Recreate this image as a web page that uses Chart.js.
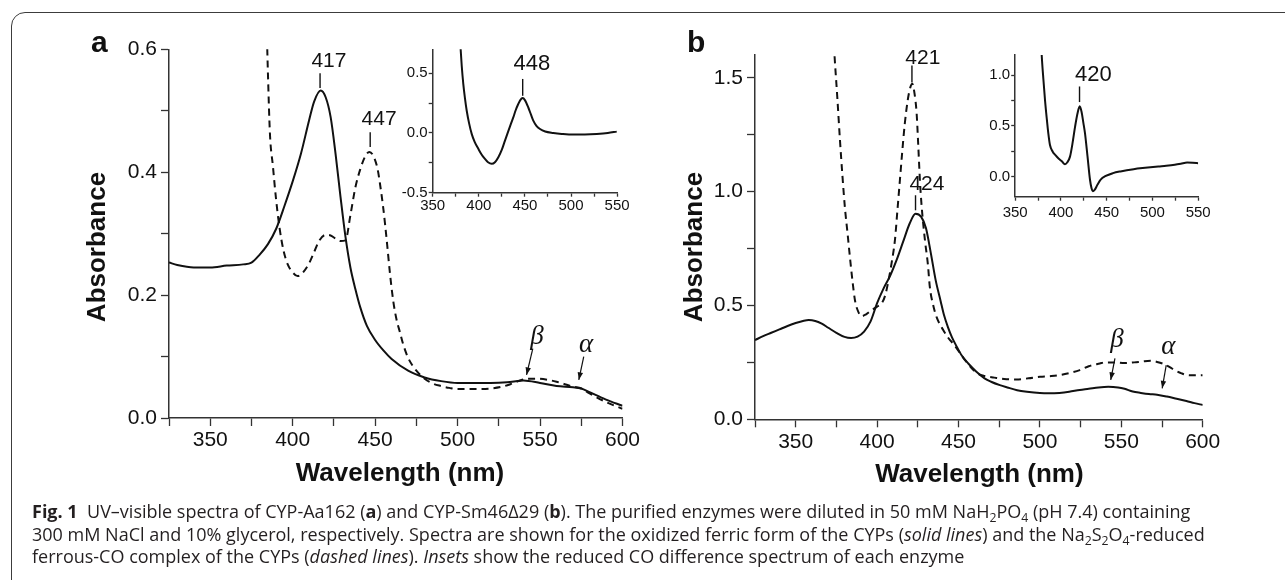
<!DOCTYPE html>
<html>
<head>
<meta charset="utf-8">
<script src="https://cdn.jsdelivr.net/npm/chart.js@4.4.0/dist/chart.umd.min.js"></script>
<style>
  body { margin: 0; background: #fff; width: 1285px; height: 580px; overflow: hidden; position: relative; }
  canvas { position: absolute; }
  #frame { position: absolute; left: 11px; top: 12px; width: 1400px; height: 700px; border: 1.5px solid #3c3c3c; border-radius: 14px; }
  #caption { position: absolute; left: 32px; top: 500px; font-family: 'Open Sans', 'Noto Sans', sans-serif; font-size: 18px; line-height: 22.5px; color: #231f20; white-space: nowrap; }
  #caption sub { font-size: 0.68em; vertical-align: -0.3em; line-height: 0; }
</style>
</head>
<body>
<div id="frame"></div>
<canvas id="mainA" width="640" height="500" style="left:0;top:0"></canvas>
<canvas id="insetA" width="260" height="200" style="left:380px;top:30px"></canvas>
<canvas id="mainB" width="645" height="500" style="left:640px;top:0"></canvas>
<canvas id="insetB" width="260" height="200" style="left:960px;top:30px"></canvas>
<div id="caption"><b>Fig. 1</b>&nbsp;&nbsp;UV–visible spectra of CYP-Aa162 (<b>a</b>) and CYP-Sm46Δ29 (<b>b</b>). The purified enzymes were diluted in 50 mM NaH<sub>2</sub>PO<sub>4</sub> (pH 7.4) containing<br>300 mM NaCl and 10% glycerol, respectively. Spectra are shown for the oxidized ferric form of the CYPs (<i>solid lines</i>) and the Na<sub>2</sub>S<sub>2</sub>O<sub>4</sub>-reduced<br>ferrous-CO complex of the CYPs (<i>dashed lines</i>). <i>Insets</i> show the reduced CO difference spectrum of each enzyme</div>
<script>
'use strict'
const INK = '#111'
const AXIS = '#333'
Chart.defaults.font.family = "'Liberation Sans', Arial, sans-serif"

// panel a, CYP-Aa162 : oxidized (solid) and reduced CO (dashed)
const nmA_ox = [325, 330, 340, 350, 360, 370, 375, 380, 385, 390, 395, 400, 405, 410, 413, 417, 420, 423, 426, 429, 432, 435, 438, 441, 445, 450, 455, 460, 470, 480, 490, 500, 510, 520, 530, 540, 550, 560, 570, 575, 580, 590, 600]
const absA_ox = [0.253, 0.249, 0.245, 0.245, 0.248, 0.25, 0.253, 0.266, 0.283, 0.308, 0.345, 0.385, 0.43, 0.485, 0.515, 0.533, 0.522, 0.49, 0.43, 0.36, 0.295, 0.245, 0.21, 0.18, 0.15, 0.127, 0.11, 0.096, 0.077, 0.066, 0.06, 0.057, 0.057, 0.057, 0.058, 0.061, 0.057, 0.052, 0.05, 0.048, 0.042, 0.03, 0.02]
const nmA_co = [384, 385, 386.2, 388, 390, 392, 394.4, 397, 400, 403, 406, 410, 413, 416, 420, 423, 426, 429, 432, 435, 438, 441, 444, 446.5, 449, 451.5, 453, 455, 457, 459, 461, 463, 465, 467, 470, 475, 480, 485, 490, 495, 500, 510, 520, 527, 532, 537, 542, 548, 555, 560, 565, 570, 575, 580, 590, 600]
const absA_co = [0.66, 0.56, 0.463, 0.41, 0.354, 0.31, 0.273, 0.25, 0.237, 0.231, 0.236, 0.252, 0.27, 0.288, 0.298, 0.297, 0.292, 0.288, 0.289, 0.33, 0.375, 0.405, 0.426, 0.433, 0.426, 0.405, 0.38, 0.34, 0.29, 0.235, 0.19, 0.16, 0.14, 0.12, 0.098, 0.077, 0.064, 0.056, 0.052, 0.049, 0.047, 0.047, 0.048, 0.051, 0.055, 0.06, 0.064, 0.064, 0.062, 0.059, 0.055, 0.051, 0.048, 0.04, 0.026, 0.015]
// inset a: reduced CO difference spectrum
const nmA_diff = [380, 380.4, 381.5, 383.2, 385, 386.9, 389.5, 392.3, 395.5, 399.5, 403, 406.7, 410, 414, 417.5, 421.2, 425, 428.4, 432, 435, 437.4, 440, 442.8, 445, 447.6, 450, 453.7, 456.5, 459.1, 462.5, 466.4, 472, 480.8, 490, 502.5, 515, 527.9, 540, 549.6]
const diffA = [0.75, 0.69, 0.56, 0.408, 0.29, 0.186, 0.08, -0.008, -0.075, -0.133, -0.18, -0.217, -0.245, -0.258, -0.245, -0.203, -0.14, -0.064, 0.015, 0.08, 0.13, 0.19, 0.242, 0.275, 0.292, 0.275, 0.213, 0.155, 0.103, 0.06, 0.033, 0.012, 0, -0.008, -0.014, -0.013, -0.008, 0, 0.011]

// panel b, CYP-Sm46Δ29
const nmB_ox = [325, 330, 335, 340, 345, 350, 355, 358, 362, 366, 370, 375, 380, 384, 388, 392, 396, 400, 404, 408, 412, 416, 420, 423.6, 427, 430, 433, 436, 439, 441, 443.5, 446, 449, 452, 456, 461, 466, 470, 475.4, 480, 486, 492, 500, 506, 512, 518, 524.5, 530, 536, 542, 548, 552, 557, 562, 567, 572, 578, 584, 590, 595, 600]
const absB_ox = [0.348, 0.365, 0.38, 0.395, 0.41, 0.423, 0.433, 0.436, 0.432, 0.42, 0.402, 0.38, 0.362, 0.357, 0.363, 0.385, 0.43, 0.51, 0.575, 0.63, 0.7, 0.78, 0.86, 0.903, 0.89, 0.84, 0.73, 0.61, 0.52, 0.46, 0.405, 0.36, 0.318, 0.28, 0.245, 0.209, 0.18, 0.165, 0.15, 0.14, 0.128, 0.121, 0.115, 0.114, 0.116, 0.121, 0.129, 0.134, 0.14, 0.143, 0.14, 0.134, 0.122, 0.116, 0.111, 0.108, 0.1, 0.09, 0.08, 0.071, 0.063]
const nmB_co = [373, 374, 375.5, 377.2, 378.7, 380.2, 381.8, 383.3, 385, 386.4, 388, 390.5, 393, 396.6, 400, 402.8, 405, 407, 409, 411, 412.5, 414, 415.5, 417, 419, 420.5, 421.6, 423, 424.3, 425.3, 426.3, 427.4, 429.4, 431.2, 432.4, 434.5, 436.5, 440.6, 444, 447, 450, 454, 458, 462, 466, 472, 478, 485.6, 493, 500, 507, 512, 518, 524.5, 530, 536.8, 540, 546, 552, 558, 563, 568, 572, 576, 580, 583, 587, 590, 595, 600]
const absB_co = [1.7, 1.58, 1.42, 1.225, 1.07, 0.932, 0.82, 0.713, 0.6, 0.523, 0.48, 0.453, 0.46, 0.479, 0.495, 0.509, 0.545, 0.61, 0.69, 0.79, 0.92, 1.05, 1.18, 1.298, 1.41, 1.46, 1.474, 1.43, 1.342, 1.2, 1.05, 0.932, 0.786, 0.68, 0.58, 0.5, 0.45, 0.392, 0.355, 0.33, 0.3, 0.26, 0.225, 0.2, 0.19, 0.183, 0.177, 0.175, 0.18, 0.187, 0.19, 0.194, 0.203, 0.216, 0.233, 0.245, 0.25, 0.25, 0.247, 0.25, 0.254, 0.257, 0.252, 0.243, 0.228, 0.215, 0.202, 0.195, 0.193, 0.194]
const nmB_diff = [378.7, 379, 380.8, 382.6, 384.4, 386.2, 388, 391, 394, 397.1, 401, 404.4, 407, 409.9, 412.5, 415.4, 418, 420.5, 422.5, 424.5, 426.3, 429, 431.7, 433.5, 434.8, 437, 440, 443.4, 449, 456.9, 465, 479.4, 492, 506.4, 515, 524.4, 531, 537.9, 544, 550]
const diffB = [1.25, 1.193, 0.96, 0.752, 0.58, 0.425, 0.31, 0.245, 0.21, 0.18, 0.15, 0.12, 0.14, 0.196, 0.32, 0.49, 0.62, 0.693, 0.64, 0.53, 0.425, 0.2, -0.03, -0.12, -0.147, -0.13, -0.08, -0.032, 0.005, 0.033, 0.05, 0.072, 0.085, 0.098, 0.105, 0.115, 0.125, 0.137, 0.135, 0.131]

// ticks and labels
const xTicksMain = [325, 350, 375, 400, 425, 450, 475, 500, 525, 550, 575, 600]
const xLabelsMain = [350, 400, 450, 500, 550, 600]
const yTicksA = [0, 0.1, 0.2, 0.3, 0.4, 0.5, 0.6]
const yLabelsA = [0, 0.2, 0.4, 0.6]
const yTicksB = [0, 0.25, 0.5, 0.75, 1, 1.25, 1.5]
const yLabelsB = [0, 0.5, 1, 1.5]
const xTicksInset = [350, 375, 400, 425, 450, 475, 500, 525, 550]
const xLabelsInset = [350, 400, 450, 500, 550]
const yTicksInsetA = [-0.5, -0.25, 0, 0.25, 0.5]
const yLabelsInsetA = [-0.5, 0, 0.5]
const yTicksInsetB = [0, 0.25, 0.5, 0.75, 1]
const yLabelsInsetB = [0, 0.5, 1]

const has = (list, v) => list.some((t) => Math.abs(t - v) < 1e-9)

// peak labels, marker ticks, arrows and axis titles
function notes(p) {
  return {
    id: 'notes',
    afterDraw(chart) {
      const { ctx } = chart
      const x = chart.scales.x
      const y = chart.scales.y
      const px = (v) => x.getPixelForValue(v)
      const py = (v) => y.getPixelForValue(v)
      ctx.save()
      ctx.fillStyle = INK
      ctx.strokeStyle = INK
      ctx.textAlign = 'center'
      ctx.textBaseline = 'middle'
      ;(p.peaks || []).forEach((k) => {
        ctx.font = p.peakFont
        ctx.fillText(k.text, px(k.tx), py(k.ty))
        ctx.lineWidth = 1.4
        ctx.beginPath()
        ctx.moveTo(px(k.x), py(k.y1))
        ctx.lineTo(px(k.x), py(k.y2))
        ctx.stroke()
      })
      ;(p.bands || []).forEach((k) => {
        ctx.font = "italic 27px 'Liberation Serif', 'Times New Roman', serif"
        ctx.fillText(k.text, px(k.tx), py(k.ty))
        const x1 = px(k.x1), y1 = py(k.y1), x2 = px(k.x2), y2 = py(k.y2)
        const ang = Math.atan2(y2 - y1, x2 - x1)
        ctx.lineWidth = 1.2
        ctx.beginPath()
        ctx.moveTo(x1, y1)
        ctx.lineTo(x2, y2)
        ctx.stroke()
        ctx.beginPath()
        ctx.moveTo(x2, y2)
        ctx.lineTo(x2 - 8 * Math.cos(ang - 0.35), y2 - 8 * Math.sin(ang - 0.35))
        ctx.lineTo(x2 - 8 * Math.cos(ang + 0.35), y2 - 8 * Math.sin(ang + 0.35))
        ctx.closePath()
        ctx.fill()
      })
      if (p.letter) {
        ctx.font = "bold 30px 'Liberation Sans', Arial, sans-serif"
        ctx.textAlign = 'left'
        ctx.textBaseline = 'alphabetic'
        ctx.fillText(p.letter.text, p.letter.x, p.letter.y)
        ctx.textAlign = 'center'
        ctx.textBaseline = 'middle'
      }
      if (p.titles) {
        ctx.font = "bold 26px 'Liberation Sans', Arial, sans-serif"
        ctx.fillText('Wavelength (nm)', p.titles.xx, p.titles.xy)
        ctx.translate(p.titles.yx, p.titles.yy)
        ctx.rotate(-Math.PI / 2)
        ctx.fillText('Absorbance', 0, 0)
      }
      ctx.restore()
    },
  }
}

function spectrumChart(id, p) {
  const canvas = document.getElementById(id)
  const W = canvas.width
  const H = canvas.height
  return new Chart(canvas, {
    type: 'scatter',
    data: {
      datasets: p.series.map((s) => ({
        data: s.x.map((v, i) => ({ x: v, y: s.y[i] })),
        showLine: true,
        borderColor: INK,
        borderWidth: p.lineWidth,
        borderDash: s.dashed ? [7, 5] : [],
        pointRadius: 0,
        cubicInterpolationMode: 'monotone',
        fill: false,
      })),
    },
    options: {
      responsive: false,
      animation: false,
      events: [],
      layout: { padding: { left: 0, top: p.area.top, right: W - p.area.right, bottom: 0 } },
      plugins: { legend: { display: false }, tooltip: { enabled: false } },
      scales: {
        x: {
          type: 'linear',
          min: p.xMin,
          max: p.xMax,
          afterBuildTicks: (s) => { s.ticks = p.xTicks.map((v) => ({ value: v })) },
          afterFit: (s) => { s.height = H - p.area.bottom; s.paddingLeft = 0; s.paddingRight = 0 },
          ticks: {
            autoSkip: false, maxRotation: 0, padding: p.xPad, color: INK,
            font: { size: p.tickSize },
            callback: (v) => (has(p.xLabels, v) ? String(v) : ''),
          },
          grid: { drawOnChartArea: false, tickLength: p.tickLen, tickColor: AXIS, tickWidth: 1.3 },
          border: { color: AXIS, width: 1.5 },
        },
        y: {
          type: 'linear',
          min: p.yMin,
          max: p.yMax,
          afterBuildTicks: (s) => { s.ticks = p.yTicks.map((v) => ({ value: v })) },
          afterFit: (s) => { s.width = p.area.left; s.paddingTop = 0; s.paddingBottom = 0 },
          ticks: {
            autoSkip: false, padding: p.yPad, color: INK,
            font: { size: p.tickSize },
            callback: (v) => (has(p.yLabels, v) ? v.toFixed(1) : ''),
          },
          grid: { drawOnChartArea: false, tickLength: p.tickLen, tickColor: AXIS, tickWidth: 1.3 },
          border: { color: AXIS, width: 1.5 },
        },
      },
    },
    plugins: [notes(p)],
  })
}

spectrumChart('mainA', {
  area: { left: 169, top: 49.3, right: 622.5, bottom: 418 },
  xMin: 325, xMax: 600, yMin: 0, yMax: 0.6,
  xTicks: xTicksMain, xLabels: xLabelsMain, yTicks: yTicksA, yLabels: yLabelsA,
  tickSize: 21, tickLen: 8, xPad: 2, yPad: 4, lineWidth: 2,
  series: [{ x: nmA_ox, y: absA_ox }, { x: nmA_co, y: absA_co, dashed: true }],
  peakFont: "21px 'Liberation Sans', Arial, sans-serif",
  peaks: [
    { text: '417', tx: 422, ty: 0.581, x: 416.6, y1: 0.561, y2: 0.537 },
    { text: '447', tx: 452.4, ty: 0.487, x: 447, y1: 0.465, y2: 0.441 },
  ],
  bands: [
    { text: 'β', tx: 548.2, ty: 0.132, x1: 545.6, y1: 0.113, x2: 541.8, y2: 0.07 },
    { text: 'α', tx: 577.9, ty: 0.119, x1: 576.5, y1: 0.1, x2: 573.5, y2: 0.062 },
  ],
  letter: { text: 'a', x: 91, y: 52 },
  titles: { xx: 400, xy: 474, yx: 98, yy: 247 },
})

spectrumChart('insetA', {
  area: { left: 52.7, top: 19.3, right: 237.1, bottom: 162.7 },
  xMin: 350, xMax: 550, yMin: -0.5, yMax: 0.7,
  xTicks: xTicksInset, xLabels: xLabelsInset, yTicks: yTicksInsetA, yLabels: yLabelsInsetA,
  tickSize: 15, tickLen: 4, xPad: 0, yPad: 1, lineWidth: 2,
  series: [{ x: nmA_diff, y: diffA }],
  peakFont: "22px 'Liberation Sans', Arial, sans-serif",
  peaks: [{ text: '448', tx: 457.5, ty: 0.578, x: 447.6, y1: 0.452, y2: 0.311 }],
})

spectrumChart('mainB', {
  area: { left: 115, top: 55, right: 562.7, bottom: 419.3 },
  xMin: 325, xMax: 600, yMin: 0, yMax: 1.6,
  xTicks: xTicksMain, xLabels: xLabelsMain, yTicks: yTicksB, yLabels: yLabelsB,
  tickSize: 21, tickLen: 8, xPad: 2, yPad: 4, lineWidth: 2,
  series: [{ x: nmB_ox, y: absB_ox }, { x: nmB_co, y: absB_co, dashed: true }],
  peakFont: "21px 'Liberation Sans', Arial, sans-serif",
  peaks: [
    { text: '421', tx: 428.1, ty: 1.586, x: 421.4, y1: 1.554, y2: 1.479 },
    { text: '424', tx: 430.6, ty: 1.032, x: 423.6, y1: 0.984, y2: 0.918 },
  ],
  bands: [
    { text: 'β', tx: 547.3, ty: 0.348, x1: 546.1, y1: 0.268, x2: 543.5, y2: 0.173 },
    { text: 'α', tx: 578.9, ty: 0.318, x1: 577.6, y1: 0.238, x2: 575.1, y2: 0.136 },
  ],
  letter: { text: 'b', x: 47, y: 52 },
  titles: { xx: 339.4, xy: 475, yx: 54.5, yy: 247 },
})

spectrumChart('insetB', {
  area: { left: 55.2, top: 25, right: 238.2, bottom: 166.7 },
  xMin: 350, xMax: 550, yMin: -0.2, yMax: 1.2,
  xTicks: xTicksInset, xLabels: xLabelsInset, yTicks: yTicksInsetB, yLabels: yLabelsInsetB,
  tickSize: 15, tickLen: 4, xPad: 3, yPad: 1, lineWidth: 2,
  series: [{ x: nmB_diff, y: diffB }],
  peakFont: "22px 'Liberation Sans', Arial, sans-serif",
  peaks: [{ text: '420', tx: 435.4, ty: 1.007, x: 420.3, y1: 0.889, y2: 0.735 }],
})
</script>
</body>
</html>
